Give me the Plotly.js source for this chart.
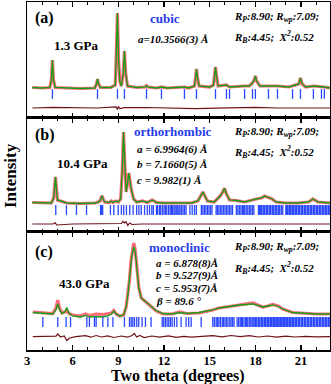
<!DOCTYPE html>
<html>
<head>
<meta charset="utf-8">
<script src="https://cdn.plot.ly/plotly-3.0.1.min.js"></script>
<style>
  html, body { margin: 0; padding: 0; background: #fff; }
  #chart { width: 331px; height: 384px; }
</style>
</head>
<body>
<div id="chart"></div>
<script>
// ---- panel (a) 1.3 GPa, cubic ----
const obsAx = [3.35, 4.0, 4.5, 4.6, 4.67, 4.74, 4.85, 5.5, 6.5, 7.45, 7.56, 7.63, 7.70, 7.82, 8.5, 8.8, 8.87, 8.94, 9.01, 9.1, 9.2, 9.32, 9.40, 9.48, 9.6, 10.2, 10.78, 10.85, 10.92, 11.5, 11.83, 12.2, 13.34, 13.6, 14.0, 14.07, 14.13, 14.19, 14.3, 15.0, 15.25, 15.32, 15.38, 15.44, 15.55, 16.1, 16.3, 17.29, 17.6, 17.81, 17.92, 18.0, 18.08, 18.3, 18.86, 19.45, 20.2, 20.85, 20.96, 21.07, 21.3, 21.81, 22.5, 22.9];
const obsAy = [30.5, 30, 30.5, 38, 58, 38, 30.5, 30, 29.5, 30, 34, 39, 34, 30.5, 30.5, 33, 60, 105, 60, 36, 32, 45, 67, 45, 32, 30.5, 31, 33, 31, 30, 31, 30, 31, 30, 32, 41, 49, 41, 32, 31, 33, 43, 51, 43, 32, 33, 31, 32, 32, 35, 38, 42, 37, 32, 32, 32, 31, 34, 40, 34, 31, 32, 31, 30];
const diffAx = [3.35, 4.67, 7.6, 8.85, 8.94, 9.0, 9.1, 9.4, 10.8, 12.5, 14.1, 15.4, 17.0, 18.0, 19.5, 21.0, 22.9];
const diffAy = [10, 10.6, 10, 11, 8.5, 11.5, 9.3, 10.3, 10.5, 10, 9.4, 9.8, 10.3, 10.6, 10, 10.3, 10];
const hklA = [4.67, 7.63, 8.94, 9.40, 10.85, 11.83, 13.34, 14.13, 15.38, 16.10, 16.30, 17.29, 17.81, 18.0, 18.86, 19.45, 20.44, 20.96, 21.81, 22.34, 22.53];

// ---- panel (b) 10.4 GPa, orthorhombic ----
const obsBx = [3.35, 4.0, 4.6, 4.75, 4.82, 4.87, 4.92, 5.0, 5.6, 6.5, 7.5, 7.8, 7.88, 7.94, 8.0, 8.1, 8.4, 8.53, 8.65, 8.83, 9.0, 9.15, 9.25, 9.34, 9.42, 9.51, 9.6, 9.68, 9.76, 9.84, 10.0, 10.2, 10.6, 10.9, 11.22, 11.5, 12.0, 13.0, 13.8, 14.22, 14.45, 14.55, 14.65, 14.85, 15.3, 15.6, 15.69, 15.85, 15.97, 16.1, 16.3, 16.74, 17.3, 18.05, 18.4, 18.6, 18.8, 19.1, 19.36, 20.0, 20.8, 21.5, 21.77, 22.1, 22.9];
const obsBy = [29.5, 29, 29, 34, 46, 55, 46, 32, 29, 28.5, 29, 31, 35, 36, 33, 30, 29.5, 31, 29.5, 31, 30, 33, 60, 100, 70, 40, 48, 59, 52, 43, 33, 30, 31, 29.5, 32, 29.5, 29, 29, 29, 31, 37, 40, 37, 31, 30, 34, 36, 40, 43.7, 38, 32, 31.5, 30, 33, 34, 36, 35, 33, 30, 29, 29, 30, 33, 30, 29];
const diffBx = [3.35, 4.7, 4.85, 4.95, 6, 7.9, 8.6, 9.2, 9.3, 9.4, 9.5, 9.62, 9.75, 9.9, 10.5, 12, 14.5, 16, 18, 20, 22.9];
const diffBy = [8, 8, 9.2, 7, 8, 8.5, 8, 8.5, 10.5, 9, 10.3, 6.5, 9, 7.5, 8, 8, 8.3, 7.8, 8.3, 8, 8];
const hklB = [4.89, 5.59, 6.25, 6.91, 7.83, 7.9, 7.97, 8.48, 8.70, 8.99, 9.2, 9.35, 9.53, 9.75, 9.97, 10.2, 10.35, 10.5, 10.72, 10.9, 11.05, 11.2, 11.3, 11.5, 11.58, 11.7, 11.78, 11.9, 12.0, 12.1, 12.18, 12.3, 12.4, 12.48, 12.55, 12.65, 12.72, 12.8, 12.9, 12.98, 13.05, 13.15, 13.25, 13.35, 13.45, 13.7, 13.85, 14.0, 14.12, 14.45, 14.55, 14.65, 14.75, 14.85, 14.95, 15.05, 15.15, 15.42, 15.5, 15.6, 15.7, 15.8, 15.9, 16.0, 16.1, 16.2, 16.3, 16.4, 16.5, 16.75, 16.85, 16.95, 17.05, 17.15, 17.22, 17.3, 17.4, 17.5, 17.6, 17.7, 17.8, 17.9, 18.2, 18.25, 18.3, 18.35, 18.4, 18.5, 18.55, 18.6, 18.7, 18.75, 18.8, 18.9, 18.95, 19.0, 19.1, 19.15, 19.2, 19.3, 19.35, 19.4, 19.5, 19.55, 19.6, 19.7, 19.8, 20.0, 20.05, 20.1, 20.2, 20.25, 20.3, 20.4, 20.45, 20.5, 20.6, 20.65, 20.7, 20.8, 20.85, 20.9, 21.0, 21.05, 21.1, 21.2, 21.25, 21.3, 21.4, 21.45, 21.5, 21.6, 21.65, 21.7, 21.8, 21.85, 21.9, 22.0, 22.05, 22.1, 22.2, 22.25, 22.3, 22.4, 22.45, 22.5, 22.6, 22.65, 22.7, 22.8, 22.85];

// ---- panel (c) 43.0 GPa, monoclinic ----
const obsCx = [3.38, 4.0, 4.7, 4.9, 5.02, 5.14, 5.3, 5.5, 5.61, 5.75, 6.0, 6.5, 6.84, 7.1, 7.54, 8.0, 8.3, 8.55, 8.7, 8.85, 9.1, 9.35, 9.51, 9.63, 9.73, 9.82, 9.9, 10.01, 10.1, 10.17, 10.25, 10.34, 10.5, 10.83, 11.15, 11.48, 11.92, 12.5, 13.01, 13.5, 14.3, 15.2, 15.6, 16.08, 16.5, 16.95, 17.4, 17.83, 18.15, 18.48, 18.8, 19.14, 19.5, 19.8, 20.45, 21.33, 22.0, 22.9];
const obsCy = [38, 37, 36.5, 42, 50, 42, 37, 38, 40, 36.5, 35, 34, 36, 34.5, 36, 35.5, 36, 37, 39.5, 36, 34, 35, 43, 55, 70, 88, 97, 107, 101, 90, 76, 63, 52, 48, 43.5, 39, 36, 36, 38, 36.5, 37, 40, 42, 43, 44, 45.5, 46, 47, 45, 43, 44, 45.5, 44, 41, 37.5, 36.5, 36, 36];
const calcCy = [37.5, 36.5, 36, 40, 46, 40, 36.5, 38.5, 42.5, 37, 34, 33, 34.5, 33, 33.5, 33, 34, 36, 39, 36, 34, 35, 43, 56, 70, 87, 96, 103, 99, 89, 75, 62, 52, 48, 44, 39.5, 36.5, 36, 37.5, 36.5, 37.5, 40, 42, 43, 44.5, 45, 45.5, 46, 44.5, 43, 44, 45, 43.5, 41, 37.5, 36.5, 36, 36];
const diffCx = [3.38, 4.5, 4.9, 5.02, 5.2, 5.45, 5.61, 5.8, 6.2, 6.84, 7.2, 7.54, 7.9, 8.3, 8.7, 9.2, 9.6, 9.9, 10.05, 10.2, 10.4, 10.7, 11.2, 11.7, 12.3, 12.8, 13.3, 13.8, 14.5, 15.2, 15.8, 16.4, 17.0, 17.6, 18.2, 18.8, 19.4, 20.0, 20.6, 21.3, 22.0, 22.9];
const diffCy = [13.3, 13.6, 13.8, 16, 13, 14, 9.5, 12, 13.3, 14.3, 12.8, 14.5, 13, 14.2, 12.5, 14, 12.8, 14.5, 16.5, 13, 14.5, 12.5, 14, 12.8, 14.2, 12.6, 13.6, 12.8, 13.5, 14.3, 13.2, 14.5, 13.3, 14.4, 13, 14, 12.8, 13.8, 13, 13.6, 13.2, 13.3];
const hklC = [4.04, 5.02, 5.57, 5.86, 6.93, 7.1, 7.43, 7.54, 7.98, 8.31, 8.64, 9.40, 9.73, 9.84, 9.95, 10.06, 10.21, 10.34, 10.56, 10.78, 11.15, 11.88, 11.98, 12.09, 12.2, 12.31, 12.42, 12.53, 12.68, 12.84, 13.12, 13.45, 13.62, 13.78, 14.44, 15.2, 15.3, 15.42, 15.5, 15.6, 15.7, 15.82, 15.9, 16.0, 16.1, 16.2, 16.32, 16.4, 16.5, 16.6, 16.8, 16.9, 17.0, 17.08, 17.15, 17.25, 17.35, 17.42, 17.5, 17.6, 17.7, 17.78, 17.85, 17.92, 18.0, 18.05, 18.1, 18.2, 18.25, 18.3, 18.4, 18.45, 18.5, 18.6, 18.65, 18.7, 18.8, 18.85, 18.9, 19.0, 19.05, 19.1, 19.2, 19.25, 19.3, 19.4, 19.45, 19.5, 19.6, 19.65, 19.7, 19.8, 19.85, 19.9, 20.0, 20.05, 20.1, 20.2, 20.25, 20.3, 20.4, 20.45, 20.5, 20.6, 20.65, 20.7, 20.8, 20.85, 20.9, 21.0, 21.05, 21.1, 21.2, 21.25, 21.3, 21.4, 21.45, 21.5, 21.6, 21.65, 21.7, 21.8, 21.85, 21.9, 22.0, 22.05, 22.1, 22.2, 22.25, 22.3, 22.4, 22.45, 22.5, 22.6, 22.65, 22.7, 22.8, 22.85];

const xTicks = [3, 6, 9, 12, 15, 18, 21];

// colours
const OBS = 'rgba(250,80,100,0.85)';
const CALC = 'rgb(20,160,20)';
const DIFF = 'rgb(110,20,25)';
const HKL = 'rgb(40,70,255)';
const BLUE_TXT = 'rgb(40,60,230)';
const SERIF = 'Liberation Serif, Times New Roman, serif';

function panel(n, obsX, obsY, calcY, dX, dY, hkl, hklRow) {
  const xa = n === 1 ? 'x' : 'x' + n;
  const ya = n === 1 ? 'y' : 'y' + n;
  return [
    { x: obsX, y: obsY, xaxis: xa, yaxis: ya, mode: 'lines',
      line: { color: OBS, width: 3.2 }, hoverinfo: 'skip' },
    { x: obsX, y: calcY, xaxis: xa, yaxis: ya, mode: 'lines',
      line: { color: CALC, width: 1.3 }, hoverinfo: 'skip' },
    { x: hkl, y: hkl.map(() => hklRow), xaxis: xa, yaxis: ya, mode: 'markers',
      marker: { symbol: 'line-ns', size: 7, line: { color: HKL, width: 1.3 } } },
    { x: dX, y: dY, xaxis: xa, yaxis: ya, mode: 'lines',
      line: { color: DIFF, width: 1.2 } }
  ];
}

const data = [
  ...panel(1, obsAx, obsAy, obsAy, diffAx, diffAy, hklA, 24),
  ...panel(2, obsBx, obsBy, obsBy, diffBx, diffBy, hklB, 22),
  ...panel(3, obsCx, obsCy, calcCy, diffCx, diffCy, hklC, 28)
];

// pixel -> paper helpers (plot area: x 27..330, y 2..350)
const L = 27, W = 303, B = 350, H = 348;
const px = v => (v - L) / W;
const py = v => (B - v) / H;

function xax(anchor, labels) {
  return {
    anchor: anchor, matches: anchor === 'y3' ? undefined : 'x3',
    range: [3, 22.9], tickvals: xTicks, showticklabels: labels,
    ticks: 'inside', ticklen: 5, tickwidth: 1.3, tickcolor: '#000',
    minor: { dtick: 1, tick0: 3, ticks: 'inside', ticklen: 3, tickwidth: 1, tickcolor: '#000' },
    showline: true, linewidth: 1.5, linecolor: '#000', mirror: 'ticks',
    showgrid: false, zeroline: false,
    tickfont: { family: SERIF, size: 12.5, color: '#000', weight: 'bold' }
  };
}
function yax(dom, top) {
  return {
    domain: dom, range: [0, top], showticklabels: false, ticks: '',
    showline: true, linewidth: 1.5, linecolor: '#000', mirror: true,
    showgrid: false, zeroline: false, fixedrange: true
  };
}

const bold = (s, c, sz) => ({ family: SERIF, size: sz, color: c || '#000', weight: 'bold' });
function ann(text, x, y, font, anchor) {
  return { text: text, xref: 'paper', yref: 'paper', x: px(x), y: py(y),
    xanchor: anchor || 'left', yanchor: 'middle', showarrow: false, font: font };
}
const rTop = '<i>R<sub>P</sub>:8.90; R<sub>wp</sub>:7.09;</i>';
const rBot = '<i>R<sub>B</sub>:4.45;  Χ<sup>2</sup>:0.52</i>';

const annotations = [
  // (a)
  ann('(a)', 33, 18, bold(null, null, 16)),
  ann('cubic', 165, 18, bold(null, BLUE_TXT, 13), 'center'),
  ann('<i>a=10.3566(3) Å</i>', 136, 39, bold(null, null, 11)),
  ann('1.3 GPa', 52, 45, bold(null, null, 13)),
  ann(rTop, 232, 17, bold(null, null, 11)),
  ann(rBot, 232, 37, bold(null, null, 11)),
  // (b)
  ann('(b)', 33, 135, bold(null, null, 16)),
  ann('orthorhombic', 173, 131, bold(null, BLUE_TXT, 13), 'center'),
  ann('<i>a = 6.9964(6) Å</i>', 135, 149, bold(null, null, 11)),
  ann('<i>b = 7.1660(5) Å</i>', 135, 165, bold(null, null, 11)),
  ann('<i>c = 9.982(1) Å</i>', 135, 180, bold(null, null, 11)),
  ann('10.4 GPa', 55, 163, bold(null, null, 13)),
  ann(rTop, 232, 132, bold(null, null, 11)),
  ann(rBot, 232, 152, bold(null, null, 11)),
  // (c)
  ann('(c)', 33, 252, bold(null, null, 16)),
  ann('monoclinic', 179, 247, bold(null, BLUE_TXT, 13), 'center'),
  ann('<i>a = 6.878(8)Å</i>', 154, 263, bold(null, null, 11)),
  ann('<i>b = 9.527(9)Å</i>', 154, 275, bold(null, null, 11)),
  ann('<i>c = 5.953(7)Å</i>', 154, 288, bold(null, null, 11)),
  ann('<i>β = 89.6 °</i>', 154, 301, bold(null, null, 11)),
  ann('43.0 GPa', 57, 283, bold(null, null, 13)),
  ann(rTop, 232, 247, bold(null, null, 11)),
  ann(rBot, 232, 268, bold(null, null, 11)),
  // axis titles
  ann('Two theta (degrees)', 178, 375.5, bold(null, null, 16), 'center'),
  { text: 'Intensity', xref: 'paper', yref: 'paper', x: px(10), y: py(176),
    xanchor: 'center', yanchor: 'middle', textangle: -90, showarrow: false,
    font: bold(null, null, 17) }
];

const layout = {
  width: 331, height: 384,
  margin: { l: L, r: 331 - L - W, t: B - H, b: 384 - B },
  paper_bgcolor: '#fff', plot_bgcolor: '#fff',
  showlegend: false,
  xaxis: xax('y', false),
  xaxis2: xax('y2', false),
  xaxis3: Object.assign(xax('y3', true), { ticklabelstandoff: -2 }),
  yaxis: yax([0.6667, 1], 116),
  yaxis2: yax([0.3391, 0.6667], 114),
  yaxis3: yax([0, 0.3391], 118),
  annotations: annotations
};

Plotly.newPlot('chart', data, layout, { staticPlot: true });
</script>
</body>
</html>
